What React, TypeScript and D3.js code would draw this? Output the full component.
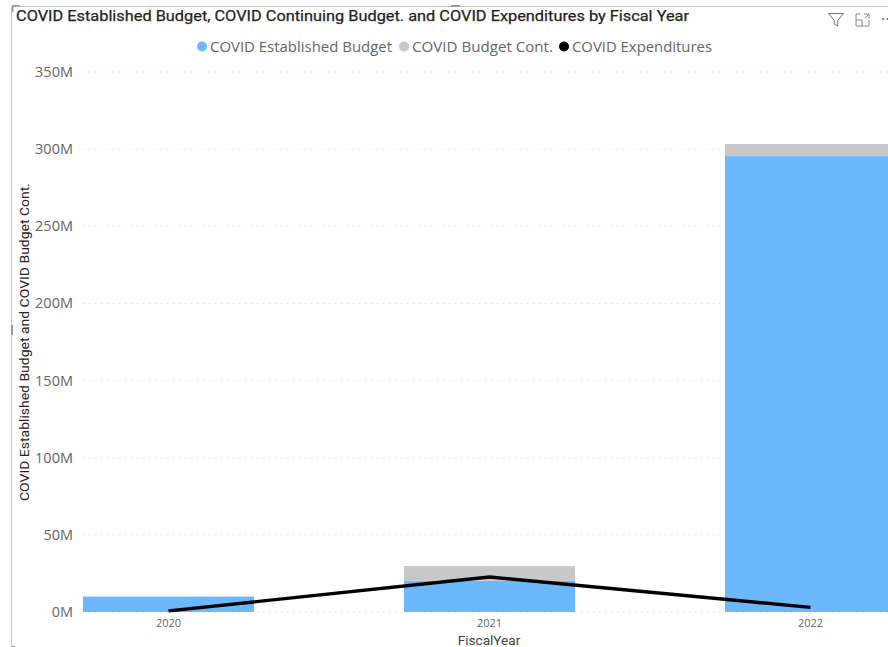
import React from "react";
import * as d3 from "d3";

const years = ["2020", "2021", "2022"];
const established = [10, 20.3, 295.5];
const continuing = [0, 9.5, 7.8];
const expenditures = [0.7, 22.7, 3];
const yTicks = [0, 50, 100, 150, 200, 250, 300, 350];
const legendItems = ["COVID Established Budget", "COVID Budget Cont.", "COVID Expenditures"];
const legendColors = ["#6cb8ff", "#c8c8c8", "#000000"];
const legendDots = [202, 404, 564];
const legendWidths = [182, 141, 140];

const W = 888, H = 647;
const y = d3.scaleLinear().domain([0, 350]).range([612, 72]);
const x = d3.scaleBand<string>().domain(years).range([8, 971]).paddingInner(0.467).paddingOuter(0.2335);
const cx = (d: string) => (x(d) as number) + x.bandwidth() / 2;
const line = d3.line<number>().x((_, i) => cx(years[i])).y((v) => y(v));

export default function App() {
  return (
    <svg width={W} height={H} viewBox={`0 0 ${W} ${H}`} style={{ position: "absolute", left: 0, top: 0, background: "#fff" }}>
      {/* frame */}
      <path d="M11.5 6.5H888M11.5 6.5V647" stroke="#c4c4c4" fill="none" />
      <path d="M12 5h8v1.5h-6.5V12H12z" fill="#9a9a9a" />
      <rect x="451" y="5" width="9" height="2" fill="#9a9a9a" />
      <rect x="11" y="325" width="2" height="10" fill="#9a9a9a" />
      <path d="M11.5 646.5H15" stroke="#9a9a9a" />

      <text x="16" y="21" fontFamily="Roboto" fontSize="14.8" fontWeight="400" stroke="#252423" strokeWidth="0.25" fill="#252423" textLength="673" lengthAdjust="spacingAndGlyphs">
        COVID Established Budget, COVID Continuing Budget. and COVID Expenditures by Fiscal Year
      </text>

      {/* header icons */}
      <path d="M828.5 13.5h15l-5.8 7v5.5l-3.4 -1.8v-3.7z" fill="none" stroke="#777" />
      <path d="M856 14h4M856 14v12h13v-6M856 20h6v6M864 14h5v5M869 14l-4 4" fill="none" stroke="#8a8a8a" />
      <circle cx="883" cy="19" r="1" fill="#666" /><circle cx="887.5" cy="19" r="1" fill="#666" />

      {/* legend */}
      {legendItems.map((t, i) => (
        <g key={t}>
          <circle cx={legendDots[i]} cy={46.5} r={5} fill={legendColors[i]} />
          <text x={legendDots[i] + 8} y={52} fontFamily="'Open Sans'" fontSize="14.8" fill="#666666" textLength={legendWidths[i]} lengthAdjust="spacingAndGlyphs">{t}</text>
        </g>
      ))}

      {/* y axis */}
      {yTicks.map((t) => (
        <g key={t}>
          <line x1={83} x2={W} y1={y(t)} y2={y(t)} stroke="#d4d4d4" strokeDasharray="1 5" />
          <text x={73} y={y(t) + 5} textAnchor="end" fontFamily="'Open Sans'" fontSize="14.5" fill="#666666">{`${t}M`}</text>
        </g>
      ))}
      <text transform="translate(29,342) rotate(-90)" textAnchor="middle" fontFamily="Roboto" fontSize="12" fill="#252423" textLength="318" lengthAdjust="spacingAndGlyphs">
        COVID Established Budget and COVID Budget Cont.
      </text>

      {/* bars */}
      {years.map((d, i) => (
        <g key={d}>
          <rect x={x(d)} width={x.bandwidth()} y={y(established[i])} height={y(0) - y(established[i])} fill={legendColors[0]} />
          <rect x={x(d)} width={x.bandwidth()} y={y(established[i] + continuing[i])} height={y(established[i]) - y(established[i] + continuing[i])} fill={legendColors[1]} />
          <text x={cx(d)} y={627} textAnchor="middle" fontFamily="'Open Sans'" fontSize="11" fill="#666666">{d}</text>
        </g>
      ))}

      <path d={line(expenditures) as string} fill="none" stroke="#000" strokeWidth="3.4" strokeLinejoin="round" />

      <text x={489} y={645} textAnchor="middle" fontFamily="Roboto" fontSize="13.6" fill="#404040">FiscalYear</text>
    </svg>
  );
}
